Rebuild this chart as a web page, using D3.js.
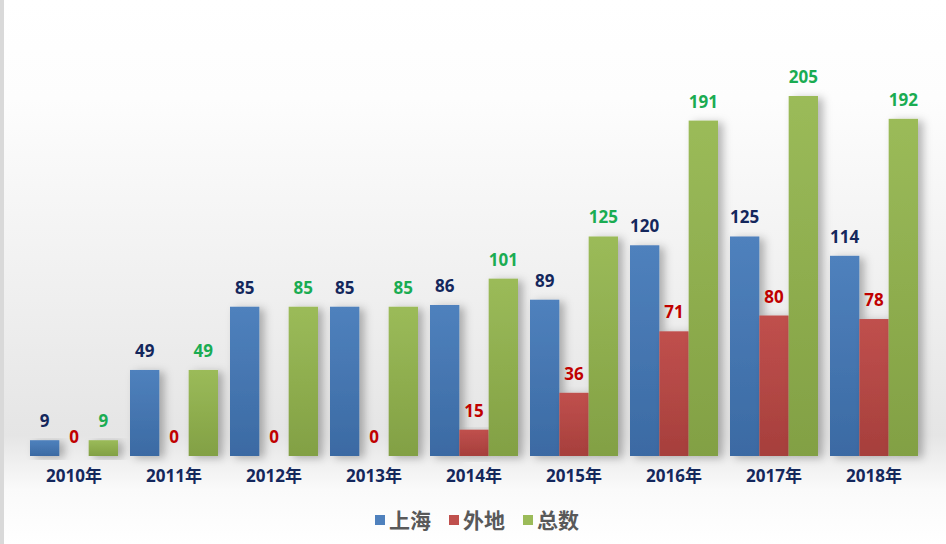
<!DOCTYPE html>
<html>
<head>
<meta charset="utf-8">
<script src="https://cdn.jsdelivr.net/npm/d3@7"></script>
<style>
  body { margin: 0; background: #fff; }
  svg { display: block; }
</style>
</head>
<body>
<div id="chart"></div>
<script>
const width = 946;
const height = 544;

// data
const years = ["2010年", "2011年", "2012年", "2013年", "2014年", "2015年", "2016年", "2017年", "2018年"];
const series = ["上海", "外地", "总数"];
const shanghai = [9, 49, 85, 85, 86, 89, 120, 125, 114];
const waidi = [0, 0, 0, 0, 15, 36, 71, 80, 78];
const zongshu = [9, 49, 85, 85, 101, 125, 191, 205, 192];

const barColors = ["#4f81bd", "#c0504d", "#9bbb59"];
const darkColors = ["#3b6aa3", "#a63f3c", "#82a044"];
const labelColors = ["#14275c", "#c00000", "#1aac52"];
const font = "'Open Sans', 'Noto Sans CJK SC', sans-serif";

const svg = d3.select("#chart").append("svg")
    .attr("width", width)
    .attr("height", height);

const defs = svg.append("defs");

// background: white at top, grey band behind the bars, white at bottom
const bg = defs.append("linearGradient")
    .attr("id", "bg")
    .attr("x1", 0).attr("y1", 0).attr("x2", 0).attr("y2", 1);
bg.append("stop").attr("offset", "0%").attr("stop-color", "#ffffff");
bg.append("stop").attr("offset", "18%").attr("stop-color", "#fdfdfd");
bg.append("stop").attr("offset", "55%").attr("stop-color", "#efefef");
bg.append("stop").attr("offset", "80%").attr("stop-color", "#e5e5e5");
bg.append("stop").attr("offset", "90%").attr("stop-color", "#fafafa");
bg.append("stop").attr("offset", "100%").attr("stop-color", "#ffffff");

barColors.forEach((c, i) => {
    const g = defs.append("linearGradient")
        .attr("id", "bar" + i)
        .attr("x1", 0).attr("y1", 0).attr("x2", 0).attr("y2", 1);
    g.append("stop").attr("offset", "0%").attr("stop-color", c);
    g.append("stop").attr("offset", "100%").attr("stop-color", darkColors[i]);
});

const shadow = defs.append("filter")
    .attr("id", "shadow")
    .attr("x", "-30%").attr("y", "-10%")
    .attr("width", "180%").attr("height", "130%");
shadow.append("feDropShadow")
    .attr("dx", 5).attr("dy", 2)
    .attr("stdDeviation", 4)
    .attr("flood-color", "#000")
    .attr("flood-opacity", 0.28);

svg.append("rect")
    .attr("width", width)
    .attr("height", height)
    .attr("fill", "url(#bg)");

// grey strip on the left edge
svg.append("rect")
    .attr("x", 0).attr("y", 0)
    .attr("width", 4).attr("height", height)
    .attr("fill", "#d9d9d9");

const baseline = 456;

const x0 = d3.scaleBand()
    .domain(years)
    .range([24, 924])
    .paddingInner(0.12)
    .paddingOuter(0.06);

const x1 = d3.scaleBand()
    .domain(series)
    .range([0, x0.bandwidth()]);

const y = d3.scaleLinear()
    .domain([0, 205])
    .range([baseline, 96]);

const rows = years.map((yr, i) => ({
    year: yr,
    values: [shanghai[i], waidi[i], zongshu[i]]
}));

const groups = svg.append("g").selectAll("g")
    .data(rows)
    .enter().append("g")
    .attr("transform", d => `translate(${x0(d.year)},0)`);

groups.selectAll("rect")
    .data(d => d.values.map((v, j) => ({ v, j })))
    .enter().append("rect")
    .attr("x", d => x1(series[d.j]))
    .attr("y", d => y(d.v))
    .attr("width", x1.bandwidth())
    .attr("height", d => baseline - y(d.v))
    .attr("fill", d => `url(#bar${d.j})`)
    .attr("filter", "url(#shadow)");

groups.selectAll("text")
    .data(d => d.values.map((v, j) => ({ v, j })))
    .enter().append("text")
    .attr("x", d => x1(series[d.j]) + x1.bandwidth() / 2)
    .attr("y", d => y(d.v) - 13)
    .attr("text-anchor", "middle")
    .attr("font-family", font)
    .attr("font-weight", "bold")
    .attr("font-size", 17)
    .attr("fill", d => labelColors[d.j])
    .text(d => d.v);

// category axis
const xAxis = svg.append("g")
    .attr("transform", `translate(0,${baseline})`)
    .call(d3.axisBottom(x0).tickSize(0).tickPadding(14));
xAxis.select(".domain").remove();
xAxis.selectAll("text")
    .attr("font-family", font)
    .attr("font-weight", "bold")
    .attr("font-size", 17)
    .attr("fill", "#14275c");

// legend
const legendItems = [
    { name: series[0], x: 375 },
    { name: series[1], x: 449 },
    { name: series[2], x: 523 }
];
const legend = svg.append("g").selectAll("g")
    .data(legendItems)
    .enter().append("g")
    .attr("transform", d => `translate(${d.x},520)`);
legend.append("rect")
    .attr("x", 0).attr("y", -5)
    .attr("width", 10).attr("height", 10)
    .attr("fill", (d, i) => barColors[i]);
legend.append("text")
    .attr("x", 14)
    .attr("y", 0)
    .attr("dy", "0.36em")
    .attr("font-family", font)
    .attr("font-weight", "bold")
    .attr("font-size", 21)
    .attr("fill", "#595959")
    .text(d => d.name);
</script>
</body>
</html>
